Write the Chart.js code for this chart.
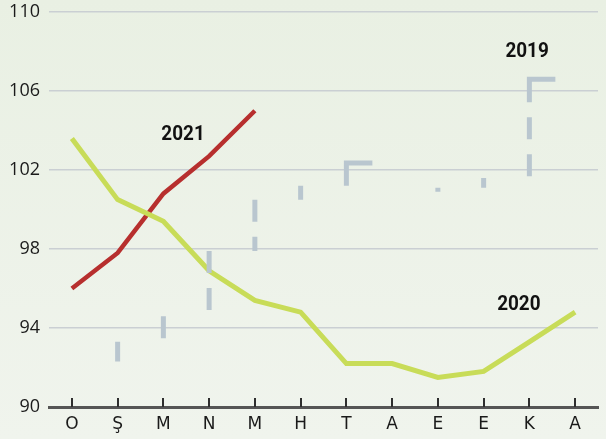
<!DOCTYPE html>
<html>
<head>
<meta charset="utf-8">
<script src="https://cdn.jsdelivr.net/npm/chart.js@4"></script>
<style>
  html, body { margin: 0; padding: 0; }
  body { width: 606px; height: 439px; background: linear-gradient(#e9f0e3, #f0f4ed); }
  canvas { display: block; }
</style>
</head>
<body>
<canvas id="chart" width="606" height="439"></canvas>
<script>
// Months (Turkish initials)
const months = ['O', 'Ş', 'M', 'N', 'M', 'H', 'T', 'A', 'E', 'E', 'K', 'A'];
const yTicks = [90, 94, 98, 102, 106, 110];

const y2019 = [null, 92.3, 93.3, 94.6, 97.9, 100.5, 101.2, 102.35, 100.9, 101.1, 101.6, 106.6];
const y2020 = [103.6, 100.5, 99.4, 96.9, 95.4, 94.8, 92.2, 92.2, 91.5, 91.8, 93.3, 94.8];
const y2021 = [96.0, 97.8, 100.8, 102.7, 105.0, null, null, null, null, null, null, null];

// dash pattern for the stepped 2019 line: only the rising vertical part is drawn,
// the last dash wraps round the corner at a local peak
function dashFor(len, tail) {
    const pieces = [];
    let left = len, on = true, first = true;
    while (left > 0.01) {
        let d = on ? (first ? tail : 22) : 15;
        d = Math.min(d, left);
        pieces.push(d);
        left -= d; on = !on; first = false;
    }
    pieces.reverse();
    const arr = [];
    if (pieces.length % 2 === 0) arr.push(0);
    pieces.forEach(p => arr.push(p));
    arr.push(10000);
    return arr;
}

function stepDash(ctx) {
    const i = ctx.p1DataIndex;
    const rise = ctx.p0.y - ctx.p1.y;
    if (rise <= 0) return [0, 10000];
    const next = y2019[i + 1];
    const peak = next == null || next < y2019[i];
    return peak ? dashFor(rise + 26, 26 + 23) : dashFor(rise, 22);
}

const decor = {
    id: 'decor',
    afterDraw(chart) {
        const { ctx, chartArea, scales: { x, y } } = chart;
        ctx.save();
        // small tick marks standing on the axis
        ctx.strokeStyle = '#2e2e2e';
        ctx.lineWidth = 2;
        months.forEach((m, i) => {
            const px = Math.round(x.getPixelForValue(i));
            ctx.beginPath();
            ctx.moveTo(px, chartArea.bottom - 9);
            ctx.lineTo(px, chartArea.bottom);
            ctx.stroke();
        });
        // series names (slightly condensed bold)
        ctx.font = 'bold 21px Roboto';
        ctx.fillStyle = '#111';
        ctx.textAlign = 'center';
        ctx.textBaseline = 'middle';
        [['2021', 2.43, 103.77], ['2020', 9.77, 95.2], ['2019', 9.95, 107.97]].forEach(([t, xi, yv]) => {
            ctx.save();
            ctx.translate(x.getPixelForValue(xi), y.getPixelForValue(yv));
            ctx.scale(0.9, 1);
            ctx.fillText(t, 0, 0);
            ctx.restore();
        });
        ctx.restore();
    }
};

new Chart(document.getElementById('chart'), {
    type: 'line',
    data: {
        labels: months,
        datasets: [{
            label: '2019',
            data: y2019,
            borderColor: '#b9c6cf',
            borderWidth: 5,
            stepped: 'after',
            segment: { borderDash: stepDash },
            pointRadius: 0
        }, {
            label: '2020',
            data: y2020,
            borderColor: '#c8dc58',
            borderWidth: 5,
            borderJoinStyle: 'miter',
            tension: 0,
            pointRadius: 0
        }, {
            label: '2021',
            data: y2021,
            borderColor: '#b72f2e',
            borderWidth: 4.5,
            borderJoinStyle: 'miter',
            tension: 0,
            pointRadius: 0
        }]
    },
    options: {
        responsive: false,
        animation: false,
        layout: { padding: { left: 0, right: 8, top: 0, bottom: 0 } },
        plugins: {
            legend: { display: false },
            tooltip: { enabled: false }
        },
        scales: {
            x: {
                offset: true,
                afterFit: axis => { axis.height = 32; },
                grid: { display: false, drawTicks: false },
                border: { display: true, color: '#555', width: 3 },
                ticks: {
                    padding: 7,
                    color: '#1a1a1a',
                    font: { family: 'DejaVu Sans', size: 17 }
                }
            },
            y: {
                min: 90,
                max: 110,
                afterFit: axis => {
                    axis.width = 49;
                    axis.paddingTop = 12;
                    axis.paddingBottom = 0;
                },
                afterBuildTicks: axis => { axis.ticks = yTicks.map(v => ({ value: v })); },
                grid: { color: '#cacfd3', lineWidth: 1.5, drawTicks: false },
                border: { display: false },
                ticks: {
                    padding: 9,
                    color: '#1a1a1a',
                    font: { family: 'Open Sans', size: 18, lineHeight: 1.1 }
                }
            }
        }
    },
    plugins: [decor]
});
</script>
</body>
</html>
